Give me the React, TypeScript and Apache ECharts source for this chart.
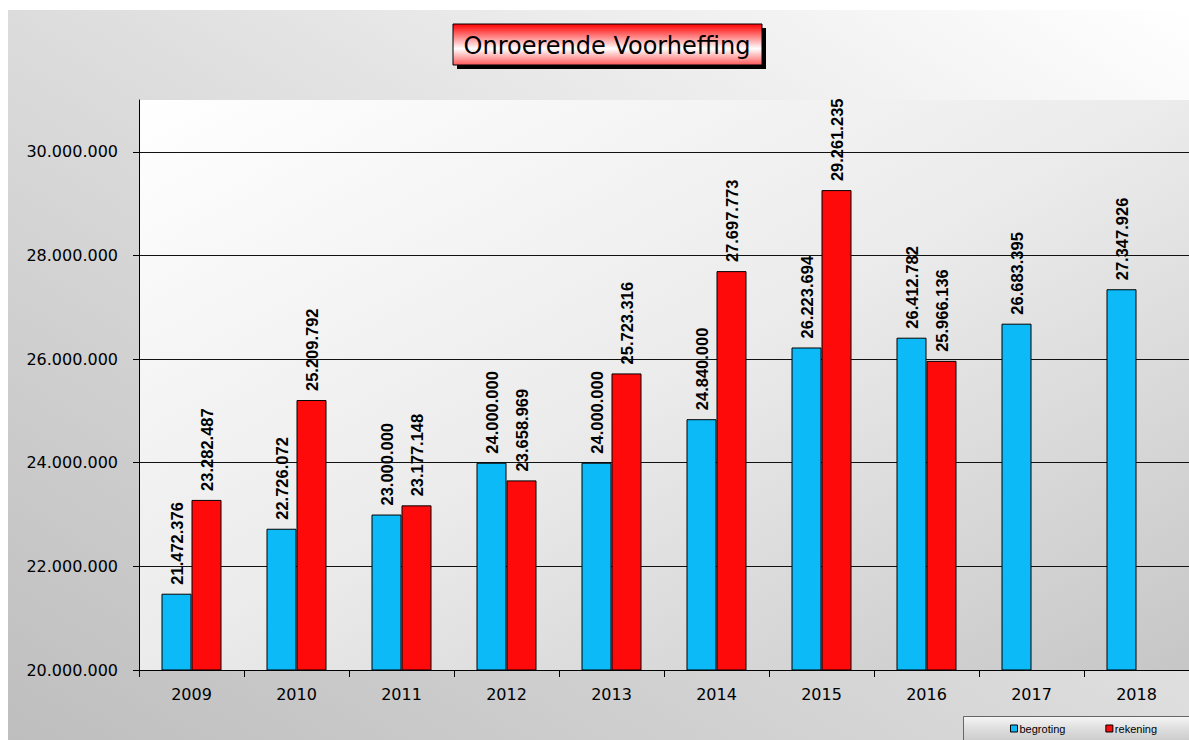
import React, { useEffect, useRef } from "react";
import * as echarts from "echarts";

const years = ["2009", "2010", "2011", "2012", "2013", "2014", "2015", "2016", "2017", "2018"];
const begroting = [21472376, 22726072, 23000000, 24000000, 24000000, 24840000, 26223694, 26412782, 26683395, 27347926];
const rekening = [23282487, 25209792, 23177148, 23658969, 25723316, 27697773, 29261235, 25966136, null, null];
const titleText = "Onroerende Voorheffing";
const yMin = 20000000;
const yMax = 31000000;
const yStep = 2000000;

const fmt = (v: number) => Math.round(v).toString().replace(/\B(?=(\d{3})+(?!\d))/g, ".");

export default function App() {
  const ref = useRef<HTMLDivElement>(null);
  useEffect(() => {
    if (!ref.current) return;
    const chart = echarts.init(ref.current, undefined, { renderer: "svg" });
    const barLabel = {
      show: true,
      position: "top",
      rotate: 90,
      align: "left",
      verticalAlign: "middle",
      distance: 9,
      formatter: (p: any) => (p.value == null ? "" : fmt(p.value)),
      fontFamily: "Liberation Sans, Arial, sans-serif",
      fontWeight: "bold",
      fontSize: 16.5,
      color: "#000",
    };
    chart.setOption({
      animation: false,
      backgroundColor: "transparent",
      grid: {
        left: 139,
        top: 100,
        right: 0,
        bottom: 70,
        show: true,
        borderWidth: 0,
        backgroundColor: new echarts.graphic.LinearGradient(0, 0, 1, 1, [
          { offset: 0, color: "#ffffff" },
          { offset: 0.5, color: "#ebebeb" },
          { offset: 1, color: "#c6c6c6" },
        ]),
      },
      legend: {
        data: ["begroting", "rekening"],
        left: 1010,
        top: 723,
        padding: 0,
        icon: "rect",
        itemWidth: 7,
        itemHeight: 7,
        itemGap: 40,
        itemStyle: { borderColor: "#000", borderWidth: 1 },
        textStyle: { fontFamily: "Liberation Sans, Arial, sans-serif", fontSize: 11, color: "#000", padding: [0, 0, 0, -3] },
      },
      xAxis: {
        type: "category",
        data: years,
        axisLine: { lineStyle: { color: "#000", width: 1 } },
        axisTick: { show: true, length: 7, lineStyle: { color: "#000" } },
        axisLabel: { fontFamily: "DejaVu Sans, sans-serif", fontSize: 16, color: "#000", margin: 16 },
      },
      yAxis: {
        type: "value",
        min: yMin,
        max: yMax,
        interval: yStep,
        axisLine: { show: true, lineStyle: { color: "#000", width: 1 } },
        axisTick: { show: true, length: 6, lineStyle: { color: "#000" } },
        axisLabel: {
          fontFamily: "DejaVu Sans, sans-serif",
          fontSize: 16,
          color: "#000",
          margin: 21,
          showMaxLabel: false,
          formatter: (v: number) => (v > 30000000 ? "" : fmt(v)),
        },
        splitLine: { show: true, showMaxLine: false, lineStyle: { color: "#111", width: 1 } },
      },
      series: [
        {
          name: "begroting",
          type: "bar",
          data: begroting,
          barWidth: 30,
          barGap: "0%",
          itemStyle: { color: "#0bbaf6", borderColor: "#000", borderWidth: 1 },
          label: barLabel,
        },
        {
          name: "rekening",
          type: "bar",
          data: rekening,
          barWidth: 30,
          itemStyle: { color: "#fe0a0a", borderColor: "#000", borderWidth: 1 },
          label: barLabel,
        },
      ],
      graphic: [
        {
          type: "group",
          children: [
            { type: "rect", shape: { x: 457, y: 28, width: 309, height: 41 }, style: { fill: "#000" } },
            {
              type: "rect",
              shape: { x: 453, y: 24, width: 309, height: 41 },
              style: {
                fill: new echarts.graphic.LinearGradient(0, 0, 0, 1, [
                  { offset: 0, color: "#ff0000" },
                  { offset: 0.6, color: "#ffffff" },
                  { offset: 1, color: "#ff5a5a" },
                ]),
                stroke: "#000",
                lineWidth: 1,
              },
            },
            {
              type: "text",
              x: 607,
              y: 46,
              style: {
                text: titleText,
                fontFamily: "Comic Sans MS, DejaVu Sans, sans-serif",
                fontSize: 24,
                fill: "#000",
                align: "center",
                verticalAlign: "middle",
              },
            },
          ],
        },
        {
          type: "rect",
          z: -1,
          shape: { x: 963.5, y: 716.5, width: 240, height: 30 },
          style: {
            fill: new echarts.graphic.LinearGradient(0, 0, 0, 1, [
              { offset: 0, color: "#f6f6f6" },
              { offset: 0.4, color: "#dedede" },
              { offset: 1, color: "#c4c4c4" },
            ]),
            stroke: "#666",
            lineWidth: 1,
          },
        },
      ],
    });
    return () => chart.dispose();
  }, []);
  return (
    <div style={{ position: "fixed", left: 0, top: 0, width: 1189, height: 740, background: "#fff", overflow: "hidden" }}>
      <div
        style={{
          position: "absolute",
          left: 8,
          top: 10,
          width: 1181,
          height: 730,
          background: "linear-gradient(to bottom left, #ffffff 0%, #dcdcdc 50%, #bebebe 100%)",
        }}
      />
      <div ref={ref} style={{ position: "absolute", left: 0, top: 0, width: 1189, height: 740 }} />
    </div>
  );
}
